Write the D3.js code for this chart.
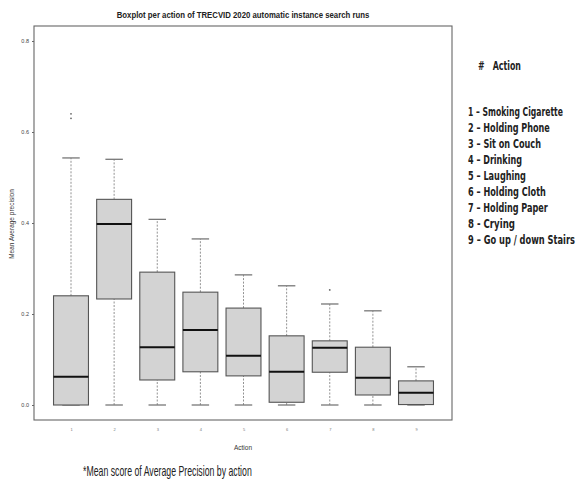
<!DOCTYPE html>
<html>
<head>
<meta charset="utf-8">
<script src="https://cdn.jsdelivr.net/npm/d3@7"></script>
<style>
  html, body { margin: 0; padding: 0; background: #fff; }
  svg { display: block; }
</style>
</head>
<body>
<svg id="chart" width="579" height="487"></svg>
<script>
// ---- data ----
const categories   = ["1", "2", "3", "4", "5", "6", "7", "8", "9"];
const whiskerLow   = [0.000, 0.000, 0.000, 0.000, 0.000, 0.000, 0.000, 0.000, 0.000];
const q1           = [0.000, 0.233, 0.055, 0.073, 0.064, 0.006, 0.072, 0.022, 0.001];
const medians      = [0.062, 0.398, 0.127, 0.165, 0.108, 0.073, 0.126, 0.060, 0.027];
const q3           = [0.240, 0.452, 0.292, 0.248, 0.213, 0.152, 0.141, 0.127, 0.053];
const whiskerHigh  = [0.543, 0.540, 0.408, 0.365, 0.286, 0.262, 0.222, 0.207, 0.084];
const outlierCats  = ["1", "1", "7"];
const outlierVals  = [0.640, 0.630, 0.253];
const yTicks       = [0.0, 0.2, 0.4, 0.6, 0.8];
const legendTitle  = "#   Action";
const legendItems  = [
  "1 \u2013 Smoking Cigarette",
  "2 \u2013 Holding Phone",
  "3 \u2013 Sit on Couch",
  "4 \u2013 Drinking",
  "5 \u2013 Laughing",
  "6 \u2013 Holding Cloth",
  "7 \u2013 Holding Paper",
  "8 - Crying",
  "9 \u2013 Go up / down Stairs"
];
const legendWidths = [95, 82, 73, 54, 58, 78, 80, 47, 107];
const titleText    = "Boxplot per action of TRECVID 2020 automatic instance search runs";
const xTitle       = "Action";
const yTitle       = "Mean Average precision";
const footnote     = "*Mean score of Average Precision by action";

// ---- layout ----
const panel = { x0: 34, y0: 26, x1: 452, y1: 420 };
const svg = d3.select("#chart");

// squeeze a text horizontally so its natural width equals `w`
function fitText(sel, x0, y0, w, anchor) {
  sel.each(function () {
    const t = d3.select(this);
    t.attr("x", 0).attr("y", 0);
    const nat = this.getComputedTextLength();
    const s = nat > 0 ? w / nat : 1;
    t.attr("transform", `translate(${x0},${y0}) scale(${s},1)`);
  });
}

const x = d3.scalePoint().domain(categories).range([71, 416]);
const y = d3.scaleLinear().domain([0, 0.8]).range([405, 41]);
const boxW = x.step() * 0.81;
const capW = boxW * 0.5;

const rows = categories.map((c, i) => ({
  c, lo: whiskerLow[i], q1: q1[i], med: medians[i], q3: q3[i], hi: whiskerHigh[i]
}));

// title
svg.append("text")
  .attr("text-anchor", "middle")
  .attr("font-family", "Liberation Sans, Arial, sans-serif")
  .attr("font-weight", "bold")
  .attr("font-size", 9)
  .attr("fill", "#222")
  .text(titleText)
  .call(fitText, 243, 18, 253);

// panel frame
svg.append("rect")
  .attr("x", panel.x0).attr("y", panel.y0)
  .attr("width", panel.x1 - panel.x0).attr("height", panel.y1 - panel.y0)
  .attr("fill", "none").attr("stroke", "#666").attr("stroke-width", 1.1);

// y axis
const yAxis = d3.axisLeft(y).tickValues(yTicks).tickFormat(d3.format(".1f")).tickSize(2).tickPadding(3);
const gy = svg.append("g").attr("transform", `translate(${panel.x0},0)`).call(yAxis);
gy.select(".domain").remove();
gy.selectAll(".tick line").attr("stroke", "#666");
gy.selectAll(".tick text")
  .attr("font-family", "Liberation Sans, Arial, sans-serif")
  .attr("font-size", 5.5).attr("fill", "#444");

// x axis
const xAxis = d3.axisBottom(x).tickSize(0).tickPadding(5);
const gx = svg.append("g").attr("transform", `translate(0,${panel.y1})`).call(xAxis);
gx.select(".domain").remove();
gx.selectAll(".tick text")
  .attr("font-family", "Liberation Sans, Arial, sans-serif")
  .attr("font-size", 4).attr("fill", "#777")
  .attr("y", 8);

// axis titles
svg.append("text")
  .attr("x", 243).attr("y", 450)
  .attr("text-anchor", "middle")
  .attr("font-family", "Liberation Sans, Arial, sans-serif")
  .attr("font-size", 6.5).attr("fill", "#333")
  .text(xTitle);
svg.append("text")
  .attr("transform", `translate(14,224) rotate(-90)`)
  .attr("text-anchor", "middle")
  .attr("font-family", "Liberation Sans, Arial, sans-serif")
  .attr("font-size", 6.5).attr("fill", "#333")
  .text(yTitle);

// boxes
const g = svg.append("g");
const box = g.selectAll("g.box").data(rows).join("g").attr("class", "box");

// whiskers (dashed)
box.append("line")
  .attr("x1", d => x(d.c)).attr("x2", d => x(d.c))
  .attr("y1", d => y(d.q3)).attr("y2", d => y(d.hi))
  .attr("stroke", "#777").attr("stroke-width", 0.8).attr("stroke-dasharray", "2,1.5");
box.append("line")
  .attr("x1", d => x(d.c)).attr("x2", d => x(d.c))
  .attr("y1", d => y(d.lo)).attr("y2", d => y(d.q1))
  .attr("stroke", "#777").attr("stroke-width", 0.8).attr("stroke-dasharray", "2,1.5");
// caps
box.append("line")
  .attr("x1", d => x(d.c) - capW / 2).attr("x2", d => x(d.c) + capW / 2)
  .attr("y1", d => y(d.hi)).attr("y2", d => y(d.hi))
  .attr("stroke", "#777").attr("stroke-width", 1.3);
box.append("line")
  .attr("x1", d => x(d.c) - capW / 2).attr("x2", d => x(d.c) + capW / 2)
  .attr("y1", d => y(d.lo)).attr("y2", d => y(d.lo))
  .attr("stroke", "#777").attr("stroke-width", 1.3);
// box rect
box.append("rect")
  .attr("x", d => x(d.c) - boxW / 2).attr("width", boxW)
  .attr("y", d => y(d.q3)).attr("height", d => Math.max(0.5, y(d.q1) - y(d.q3)))
  .attr("fill", "#d3d3d3").attr("stroke", "#555").attr("stroke-width", 1.1);
// median
box.append("line")
  .attr("x1", d => x(d.c) - boxW / 2).attr("x2", d => x(d.c) + boxW / 2)
  .attr("y1", d => y(d.med)).attr("y2", d => y(d.med))
  .attr("stroke", "#111").attr("stroke-width", 2);

// outliers
g.selectAll("circle.out").data(outlierCats.map((c, i) => ({ c, v: outlierVals[i] })))
  .join("circle").attr("class", "out")
  .attr("cx", d => x(d.c)).attr("cy", d => y(d.v)).attr("r", 0.9)
  .attr("fill", "#666");

// legend
svg.append("text")
  .attr("font-family", "DejaVu Sans Condensed, DejaVu Sans, sans-serif")
  .attr("font-weight", "bold").attr("font-size", 12.5).attr("fill", "#222")
  .attr("xml:space", "preserve")
  .text(legendTitle)
  .call(fitText, 478, 70, 43);
svg.append("g").selectAll("text").data(legendItems).join("text")
  .attr("font-family", "DejaVu Sans Condensed, DejaVu Sans, sans-serif")
  .attr("font-weight", "bold").attr("font-size", 12.5).attr("fill", "#222")
  .text(d => d)
  .each(function (d, i) {
    d3.select(this).call(fitText, 468, 116 + i * 16, legendWidths[i]);
  });

// footnote
svg.append("text")
  .attr("font-family", "Liberation Sans Narrow, Liberation Sans, Arial, sans-serif")
  .attr("font-size", 14).attr("fill", "#222")
  .text(footnote)
  .call(fitText, 83, 476, 169);
</script>
</body>
</html>
